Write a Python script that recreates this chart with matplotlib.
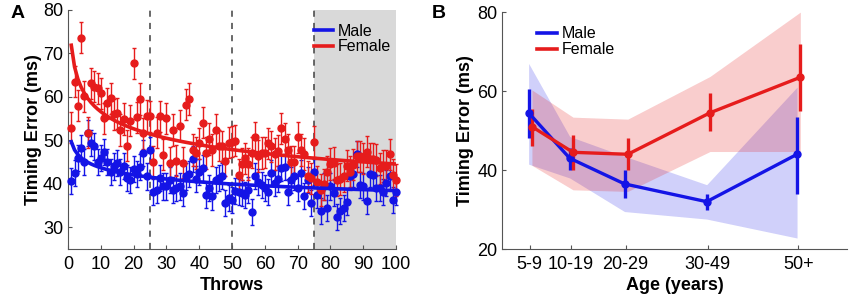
import numpy as np
import matplotlib.pyplot as plt

plt.rcParams["font.family"] = ["Liberation Sans", "DejaVu Sans"]

BLUE = "#1414e6"
RED = "#e61c1c"

# panel A: mean timing error per throw
throws = np.arange(1, 101)
male_err = [40.7, 42.5, 45.9, 48.2, 45.1, 51.8, 49.3, 48.6, 45.1, 45.9,
            47.4, 45.1, 42.8, 44.0, 44.8, 42.8, 44.2, 41.3, 40.9, 43.4,
            42.2, 43.8, 47.1, 41.7, 47.8, 38.2, 38.5, 41.3, 39.4, 39.4,
            40.9, 38.6, 39.0, 39.4, 38.0, 41.7, 42.3, 45.7, 41.1, 42.8,
            43.6, 37.5, 39.0, 37.1, 40.9, 41.3, 41.8, 35.7, 36.7, 36.3,
            38.4, 38.2, 37.9, 37.5, 38.6, 33.6, 41.8, 40.5, 39.8, 39.0,
            38.2, 42.5, 40.2, 41.2, 43.6, 43.8, 38.2, 40.9, 41.7, 39.0,
            42.6, 37.3, 40.9, 35.7, 42.8, 37.5, 33.8, 39.4, 34.4, 39.4,
            38.0, 32.3, 33.8, 34.4, 35.9, 41.7, 42.2, 46.9, 39.8, 39.4,
            36.1, 42.3, 42.1, 39.0, 39.0, 38.2, 40.2, 41.7, 36.2, 38.2]
female_err = [52.9, 63.5, 58.0, 73.6, 60.1, 51.8, 63.1, 62.4, 62.0, 60.8,
              55.1, 58.5, 59.7, 56.0, 56.2, 52.4, 54.9, 48.8, 54.5, 67.7,
              55.3, 59.5, 51.6, 55.6, 55.5, 45.0, 51.8, 55.5, 46.7, 55.1,
              44.8, 52.4, 45.3, 53.4, 44.9, 58.2, 59.5, 47.8, 47.1, 49.3,
              54.1, 47.1, 50.3, 47.8, 52.4, 48.8, 48.6, 45.3, 49.5, 49.7,
              49.9, 42.1, 44.6, 45.9, 44.6, 47.2, 50.7, 46.4, 47.1, 47.2,
              49.3, 48.6, 46.9, 47.6, 52.8, 50.3, 47.8, 45.1, 45.1, 50.7,
              47.8, 46.9, 41.7, 41.3, 49.7, 40.5, 38.6, 39.9, 42.8, 44.6,
              44.8, 40.9, 41.1, 41.7, 44.2, 42.8, 44.4, 46.3, 46.3, 45.9,
              47.4, 45.7, 45.7, 45.5, 43.6, 44.1, 44.2, 46.8, 42.1, 40.9]
male_sem = 3.0
female_sem = 3.6

# panel B: timing error by age group
age_groups = ["5-9", "10-19", "20-29", "30-49", "50+"]
age_pos = [7, 14.5, 24.5, 39.5, 56]
male_age = [54.5, 43.0, 36.5, 32.0, 44.0]
male_age_lo = [48.0, 40.0, 33.0, 30.0, 34.0]
male_age_hi = [60.5, 45.5, 40.0, 34.0, 53.5]
male_band_lo = [41.5, 38.0, 29.5, 27.6, 22.8]
male_band_hi = [67.0, 48.5, 43.5, 36.3, 61.0]
female_age = [51.0, 44.5, 44.0, 54.5, 63.5]
female_age_lo = [46.0, 40.0, 40.0, 50.0, 55.0]
female_age_hi = [55.5, 49.0, 48.0, 59.5, 72.0]
female_band_lo = [41.2, 35.0, 34.6, 44.7, 44.7]
female_band_hi = [60.3, 53.4, 52.9, 63.7, 80.0]

fig = plt.figure(figsize=(8.5, 3.03), dpi=100)
axA = fig.add_axes([0.080, 0.178, 0.386, 0.789])
axB = fig.add_axes([0.591, 0.178, 0.406, 0.782])

# ---- A ----
axA.axvspan(75, 100, color="#d9d9d9", zorder=0, lw=0)
for xv in [25, 50, 75]:
    axA.axvline(xv, color="#404040", ls=(0, (4, 4)), lw=1.1, zorder=1)

for vals, sem, col, lab in [(male_err, male_sem, BLUE, "Male"),
                            (female_err, female_sem, RED, "Female")]:
    axA.errorbar(throws, vals, yerr=sem, fmt="o", color=col, ms=5,
                 elinewidth=1, capsize=1.5, zorder=3, clip_on=False)
    a, b = np.polyfit(np.log(throws), np.log(vals), 1)
    axA.plot(throws, np.exp(b) * throws ** a, color=col, lw=2.6, zorder=4,
             label=lab)

axA.set_xlim(0, 100)
axA.set_ylim(25, 80)
axA.set_xticks(range(0, 101, 10))
axA.set_yticks(range(30, 81, 10))
axA.set_xlabel("Throws", fontsize=13, fontweight="bold", labelpad=3)
axA.set_ylabel("Timing Error (ms)", fontsize=13, fontweight="bold", labelpad=1)
axA.legend(loc="upper right", bbox_to_anchor=(1.02, 0.99), frameon=False,
           fontsize=11.5, handlelength=1.2, handletextpad=0.3,
           labelspacing=0.05, borderaxespad=0.3)

# ---- B ----
male_x = [p - 0.2 for p in age_pos]
female_x = [p + 0.4 for p in age_pos]
axB.fill_between(male_x, male_band_lo, male_band_hi, color=BLUE, alpha=0.2,
                 lw=0)
axB.fill_between(female_x, female_band_lo, female_band_hi, color=RED,
                 alpha=0.22, lw=0)
for xs, m, lo, hi, col, lab in [
        (male_x, male_age, male_age_lo, male_age_hi, BLUE, "Male"),
        (female_x, female_age, female_age_lo, female_age_hi, RED, "Female")]:
    yerr = [np.subtract(m, lo), np.subtract(hi, m)]
    axB.errorbar(xs, m, yerr=yerr, fmt="-o", color=col, lw=2.4, ms=5,
                 elinewidth=2.4, capsize=0, label=lab)

axB.set_xlim(2, 65)
axB.set_ylim(20, 80)
axB.set_xticks(age_pos)
axB.set_xticklabels(age_groups)
axB.set_yticks([20, 40, 60, 80])
axB.set_xlabel("Age (years)", fontsize=13, fontweight="bold", labelpad=3)
axB.set_ylabel("Timing Error (ms)", fontsize=13, fontweight="bold", labelpad=2)
hB, lB = axB.get_legend_handles_labels()
axB.legend([plt.Line2D([], [], color=BLUE, lw=2.6),
            plt.Line2D([], [], color=RED, lw=2.6)], lB,
           loc="upper left", bbox_to_anchor=(0.06, 1.0), frameon=False,
           fontsize=11.5, handlelength=1.2, handletextpad=0.3,
           labelspacing=0.05)

for ax in (axA, axB):
    for s in ("top", "right"):
        ax.spines[s].set_visible(False)
    for s in ("left", "bottom"):
        ax.spines[s].set_color("#555555")
    ax.tick_params(direction="in", length=3, labelsize=13, color="#555555")
    ax.tick_params(axis="x", pad=5)

fig.text(0.012, 0.94, "A", fontsize=14, fontweight="bold")
fig.text(0.508, 0.94, "B", fontsize=14, fontweight="bold")

fig.savefig("out.png", dpi=100)
